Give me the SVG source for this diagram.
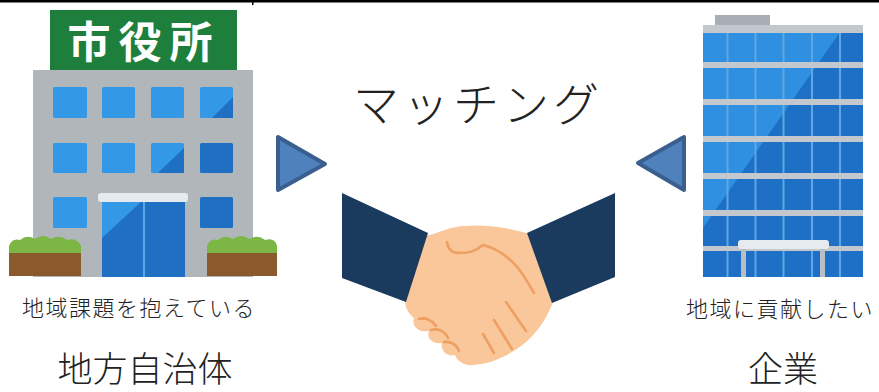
<svg xmlns="http://www.w3.org/2000/svg" width="879" height="392" viewBox="0 0 879 392">
  <defs>
    <style>
      .jp { font-family: "Noto Sans CJK JP", "Noto Sans", sans-serif; fill: #222; }
      .win { fill: #3399e6; }
      .win-dk { fill: #1f6fc2; }
      .band { fill: #c3c8cf; }
      .mull { stroke: #5fa6e2; stroke-width: 2; }
      .arrow { fill: #4f81bd; stroke: #3a5f8f; stroke-width: 4; stroke-linejoin: round; }
      .sleeve { fill: #1a3b5e; }
      .crease { fill: none; stroke: #ee9f62; stroke-width: 2.6; stroke-linecap: round; stroke-linejoin: round; }
    </style>
  </defs>

  <rect width="879" height="392" fill="#ffffff"/>
  <!-- top rule -->
  <rect x="0" y="0" width="879" height="2.5" fill="#000"/>
  <rect x="252" y="2" width="1.5" height="3" fill="#000"/>

  <!-- city hall -->
  <g id="city-hall">
    <rect x="50" y="10" width="187" height="60" fill="#1e7e3c"/>
    <text x="144" y="58" text-anchor="middle" font-family="Noto Sans CJK JP, sans-serif" font-weight="bold" font-size="43" letter-spacing="8" fill="#ffffff">市役所</text>
    <rect x="33" y="70" width="220" height="207" fill="#b1b6bb"/>
    <!-- row 1 -->
    <rect class="win" x="53" y="87" width="34" height="31" rx="1.5"/>
    <rect class="win" x="102" y="87" width="33" height="31" rx="1.5"/>
    <rect class="win" x="151" y="87" width="33" height="31" rx="1.5"/>
    <rect class="win" x="200" y="87" width="33" height="31" rx="1.5"/>
    <polygon class="win-dk" points="233,97 233,118 212,118"/>
    <!-- row 2 -->
    <rect class="win" x="53" y="143" width="34" height="30" rx="1.5"/>
    <rect class="win" x="102" y="143" width="33" height="30" rx="1.5"/>
    <rect class="win" x="151" y="143" width="33" height="30" rx="1.5"/>
    <polygon class="win-dk" points="184,148 184,173 158,173"/>
    <rect class="win-dk" x="200" y="143" width="33" height="30" rx="1.5"/>
    <!-- row 3 -->
    <rect class="win" x="53" y="197" width="34" height="31" rx="1.5"/>
    <rect class="win-dk" x="200" y="197" width="33" height="31" rx="1.5"/>
    <!-- entrance -->
    <rect x="98" y="193" width="90" height="9" rx="3" fill="#e6ebef"/>
    <rect x="102" y="202" width="83" height="75" fill="#1f6fc2"/>
    <polygon points="102,202 141,202 102,238" fill="#3399e6"/>
    <rect x="143" y="202" width="2" height="75" fill="#5aa8e8"/>
    <!-- planters -->
    <path d="M9,255 L9,246 Q12,238 20,240 Q27,234 35,239 Q43,233 51,239 Q60,234 67,240 Q77,237 81,246 L81,255 Z" fill="#7cb644"/>
    <rect x="9" y="253" width="72" height="23" fill="#8b5a2c"/>
    <path d="M207,255 L207,246 Q210,238 218,240 Q225,234 233,239 Q241,233 249,239 Q258,234 265,240 Q275,237 277,246 L277,255 Z" fill="#7cb644"/>
    <rect x="207" y="253" width="70" height="23" fill="#8b5a2c"/>
  </g>

  <!-- office building -->
  <g id="office">
    <rect x="715" y="15" width="55" height="11" fill="#a9aeb4"/>
    <rect x="703" y="25" width="160" height="252" fill="#1d70c6"/>
    <polygon points="703,25 845,25 703,228" fill="#2f8fe0"/>
    <g class="mull">
      <line x1="727.5" y1="30" x2="727.5" y2="277"/>
      <line x1="755.5" y1="30" x2="755.5" y2="277"/>
      <line x1="783.5" y1="30" x2="783.5" y2="277"/>
      <line x1="812" y1="30" x2="812" y2="277"/>
      <line x1="840" y1="30" x2="840" y2="277"/>
    </g>
    <rect class="band" x="703" y="25" width="160" height="8"/>
    <rect class="band" x="703" y="62" width="160" height="6"/>
    <rect class="band" x="703" y="99" width="160" height="6"/>
    <rect class="band" x="703" y="136" width="160" height="6"/>
    <rect class="band" x="703" y="173" width="160" height="6"/>
    <rect class="band" x="703" y="210" width="160" height="6"/>
    <rect class="band" x="703" y="246" width="160" height="5"/>
    <rect x="738" y="240" width="91" height="9" rx="3" fill="#e6ebef"/>
    <rect x="741" y="249" width="5" height="28" fill="#b9bec4"/>
    <rect x="820" y="249" width="5" height="28" fill="#b9bec4"/>
  </g>

  <!-- handshake -->
  <g id="handshake">
    <path d="M425,236 C440,233 450,226 466,226 C486,224 510,228 530,234 L553,302 C546,320 536,335 521,346 C506,357 490,364 473,365 C464,366 457,361 455,355 C447,357 440,350 442,343 C433,345 426,338 429,331 C419,333 411,326 414,318 C409,314 405,308 405,300 Z" fill="#f9c79a"/>
    <path class="crease" d="M447,242 C448,250 452,253 460,253 C468,253 475,252 483,245 C495,248 508,256 518,268 C525,277 530,286 534,293"/>
    <path class="crease" d="M506,302 L526,331"/>
    <path class="crease" d="M494,320 L512,349"/>
    <path class="crease" d="M483,334 L494,353"/>
    <path class="crease" d="M419,319 C425,317 432,320 436,326"/>
    <path class="crease" d="M431,330 C438,328 445,331 448,338"/>
    <path class="crease" d="M444,342 C451,341 457,345 459,351"/>
    <polygon class="sleeve" points="342,193 428,233 406,302 342,278"/>
    <polygon class="sleeve" points="527,233 615,193 615,277 552,303"/>
  </g>

  <!-- arrows -->
  <g id="connectors">
    <polygon class="arrow" points="278,137 278,190 325,164"/>
    <polygon class="arrow" points="684,137 684,190 638,163"/>
  </g>

  <!-- labels -->
  <g id="labels">
    <text class="jp" x="478" y="121" text-anchor="middle" font-size="46" font-weight="300" letter-spacing="4">マッチング</text>
    <text class="jp" x="139" y="316" text-anchor="middle" font-size="22" font-weight="300" letter-spacing="1.5">地域課題を抱えている</text>
    <text class="jp" x="145" y="382" text-anchor="middle" font-size="35" font-weight="300">地方自治体</text>
    <text class="jp" x="780" y="317" text-anchor="middle" font-size="22" font-weight="300" letter-spacing="1.5">地域に貢献したい</text>
    <text class="jp" x="783" y="382" text-anchor="middle" font-size="35" font-weight="300">企業</text>
  </g>
</svg>
